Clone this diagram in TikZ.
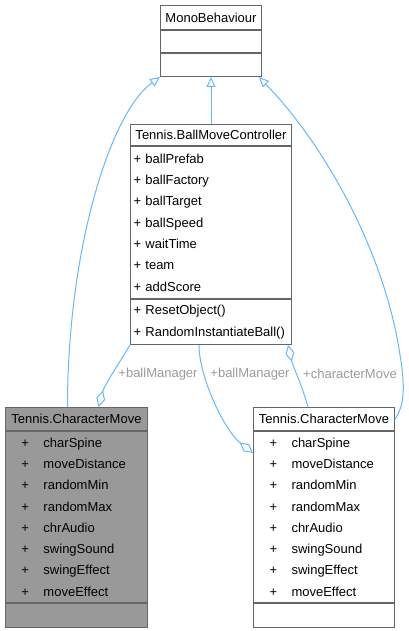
\documentclass[tikz,border=0pt]{standalone}
\usepackage{fontspec}
\setmainfont{Liberation Sans}
\usetikzlibrary{arrows.meta,positioning}
\definecolor{edgeblue}{HTML}{63B8FF}
\definecolor{boxgray}{HTML}{666666}
\definecolor{curgray}{HTML}{999999}
\definecolor{lblgray}{HTML}{9A9A9A}
\newcommand{\mem}[1]{\makebox[35pt][l]{\hspace{13pt}+}#1}

\begin{document}
\begin{tikzpicture}[x=1pt,y=-1pt,
  font=\fontsize{13}{21.3}\selectfont,
  part/.style 2 args={draw=boxgray, line width=1pt, fill=white,
    inner xsep=3pt, inner ysep=0pt, text width=#1, minimum height=#2},
  head/.style 2 args={part={#1}{#2}, align=center},
  sect/.style 2 args={part={#1}{#2}, align=left},
  inh/.style={draw=edgeblue, line width=1pt,
    -{Triangle[open, length=10pt, width=9pt]}},
  aggrto/.style={draw=edgeblue, line width=1pt,
    -{Diamond[open, length=17pt, width=9pt]}},
  aggrfrom/.style={draw=edgeblue, line width=1pt,
    {Diamond[open, length=17pt, width=9pt]}-},
  lbl/.style={text=lblgray, inner sep=0pt}]
  \useasboundingbox (0,0) rectangle (409,631);
  % MonoBehaviour
  \node[head={95pt}{24pt}, anchor=north west] (mono) at (160,5) {MonoBehaviour};
  \node[sect={95pt}{22pt}, below=0pt of mono] (mono-a) {};
  \node[sect={95pt}{23pt}, below=0pt of mono-a] (mono-m) {};
  % Tennis.BallMoveController
  \node[head={155pt}{21pt}, anchor=north west] (bmc) at (130,124) {Tennis.BallMoveController};
  \node[sect={155pt}{152pt}, below=0pt of bmc] (bmc-a)
    {+ ballPrefab\\+ ballFactory\\+ ballTarget\\+ ballSpeed\\+ waitTime\\+ team\\+ addScore};
  \node[sect={155pt}{45pt}, below=0pt of bmc-a] (bmc-m)
    {+ ResetObject()\\+ RandomInstantiateBall()};
  % Tennis.CharacterMove (current)
  \node[head={136pt}{23pt}, fill=curgray, anchor=north west] (cmL) at (5,407) {Tennis.CharacterMove};
  \node[sect={136pt}{171pt}, fill=curgray, below=0pt of cmL] (cmL-a)
    {\mem{charSpine}\\\mem{moveDistance}\\\mem{randomMin}\\\mem{randomMax}\\
     \mem{chrAudio}\\\mem{swingSound}\\\mem{swingEffect}\\\mem{moveEffect}};
  \node[sect={136pt}{24pt}, fill=curgray, below=0pt of cmL-a] (cmL-m) {};
  % Tennis.CharacterMove
  \node[head={135pt}{23pt}, anchor=north west] (cmR) at (253,407) {Tennis.CharacterMove};
  \node[sect={135pt}{171pt}, below=0pt of cmR] (cmR-a)
    {\mem{charSpine}\\\mem{moveDistance}\\\mem{randomMin}\\\mem{randomMax}\\
     \mem{chrAudio}\\\mem{swingSound}\\\mem{swingEffect}\\\mem{moveEffect}};
  \node[sect={135pt}{24pt}, below=0pt of cmR-a] (cmR-m) {};
  % Inheritance
  \draw[inh] ([xshift=-9pt]cmL.north) .. controls +(0,-157) and +(-50,36) .. (mono-m.south west);
  \draw[inh] (bmc.north) -- (mono-m.south);
  \draw[inh] (cmR.east) .. controls +(10,-14) and +(5,30) .. ([xshift=5pt,yshift=64pt]cmR.east)
    .. controls +(-14,-95) and +(72,75) .. ([xshift=-3pt]mono-m.south east);
  % Associations
  \draw[aggrto] (bmc-m.south west) .. controls +(-12,20) and +(6,-22) .. ([xshift=22pt]cmL.north);
  \draw[aggrto] ([xshift=-12pt]bmc-m.south) .. controls +(0,33) and +(-28,-22) .. ([yshift=-22pt]cmR-a.north west);
  \draw[aggrfrom] ([xshift=77pt]bmc-m.south) .. controls +(5,22) and +(-6,-22) .. ([xshift=-16pt]cmR.north);
  \node[lbl] (lbm1) at (158,374) {+ballManager};
  \node[lbl] (lbm2) at (250,374) {+ballManager};
  \node[lbl] (lcm) at (350,374) {+characterMove};
\end{tikzpicture}
\end{document}
